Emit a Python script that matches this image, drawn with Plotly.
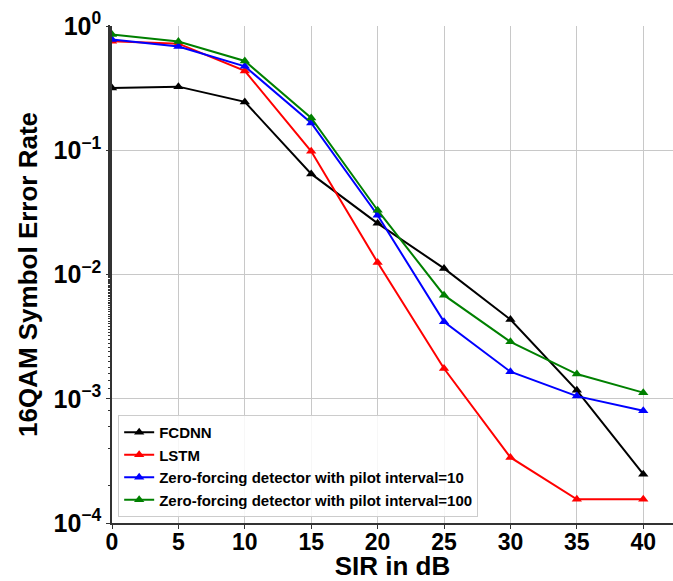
import plotly.graph_objects as go

sir = [0, 5, 10, 15, 20, 25, 30, 35, 40]
fcdnn = [0.317, 0.325, 0.245, 0.0645, 0.0258, 0.0112, 0.00434, 0.00117, 0.000247]
lstm = [0.753, 0.721, 0.435, 0.098, 0.0125, 0.00175, 0.000337, 0.000155, 0.000155]
zf10 = [0.778, 0.683, 0.474, 0.166, 0.030, 0.00416, 0.00165, 0.00105, 0.00080]
zf100 = [0.853, 0.749, 0.523, 0.182, 0.0329, 0.00682, 0.00287, 0.00158, 0.00112]

names = ["FCDNN", "LSTM", "Zero-forcing detector with pilot interval=10",
         "Zero-forcing detector with pilot interval=100"]
colors = ["black", "red", "blue", "green"]
series = [fcdnn, lstm, zf10, zf100]

ytickvals = [1e-4, 1e-3, 1e-2, 1e-1, 1]
yticktext = ["10<sup>−4</sup>", "10<sup>−3</sup>", "10<sup>−2</sup>", "10<sup>−1</sup>", "10<sup>0</sup>"]
xtickvals = [0, 5, 10, 15, 20, 25, 30, 35, 40]

FONT = "Liberation Sans, Arial, sans-serif"

fig = go.Figure()
for n, c, s in zip(names, colors, series):
    fig.add_trace(go.Scatter(
        x=sir, y=s, name=n, mode="lines+markers",
        line=dict(color=c, width=2),
        marker=dict(symbol="triangle-up", size=9, color=c),
    ))

fig.update_layout(
    width=673, height=581,
    margin=dict(l=112, r=0, t=26, b=58),
    paper_bgcolor="white", plot_bgcolor="white",
    font=dict(family=FONT, color="black", weight="bold"),
    showlegend=True,
    legend=dict(
        x=0.011, y=0.012, xanchor="left", yanchor="bottom",
        bgcolor="rgba(255,255,255,0.85)", bordercolor="#cccccc", borderwidth=1,
        font=dict(family=FONT, size=15, color="black", weight="bold"),
        itemwidth=30, tracegroupgap=0,
    ),
    xaxis=dict(
        range=[0, 42.24], tickvals=xtickvals,
        showgrid=True, gridcolor="#c8c8c8", gridwidth=1.3,
        showline=True, linecolor="#333333", linewidth=1.5,
        ticks="outside", ticklen=4, tickcolor="#333333",
        ticklabelstandoff=-6,
        tickfont=dict(family=FONT, size=23, color="black", weight="bold"),
        title=dict(text="SIR in dB", font=dict(family=FONT, size=26, color="black", weight="bold"), standoff=3),
        zeroline=False, automargin=False,
    ),
    yaxis=dict(
        type="log", range=[-4, 0],
        tickvals=ytickvals, ticktext=yticktext,
        showgrid=True, gridcolor="#c8c8c8", gridwidth=1.3,
        showline=True, linecolor="#333333", linewidth=1.5,
        ticks="outside", ticklen=4, tickcolor="#333333",
        minor=dict(ticks="outside", ticklen=2, tickcolor="#333333", showgrid=False),
        tickfont=dict(family=FONT, size=25, color="black", weight="bold"),
        title=dict(text="16QAM Symbol Error Rate", font=dict(family=FONT, size=26, color="black", weight="bold"), standoff=8),
        zeroline=False, automargin=False,
    ),
)

fig.write_html("out.html", config={"displayModeBar": False},
               post_script="document.body.style.margin='0';document.body.style.overflow='hidden';")
